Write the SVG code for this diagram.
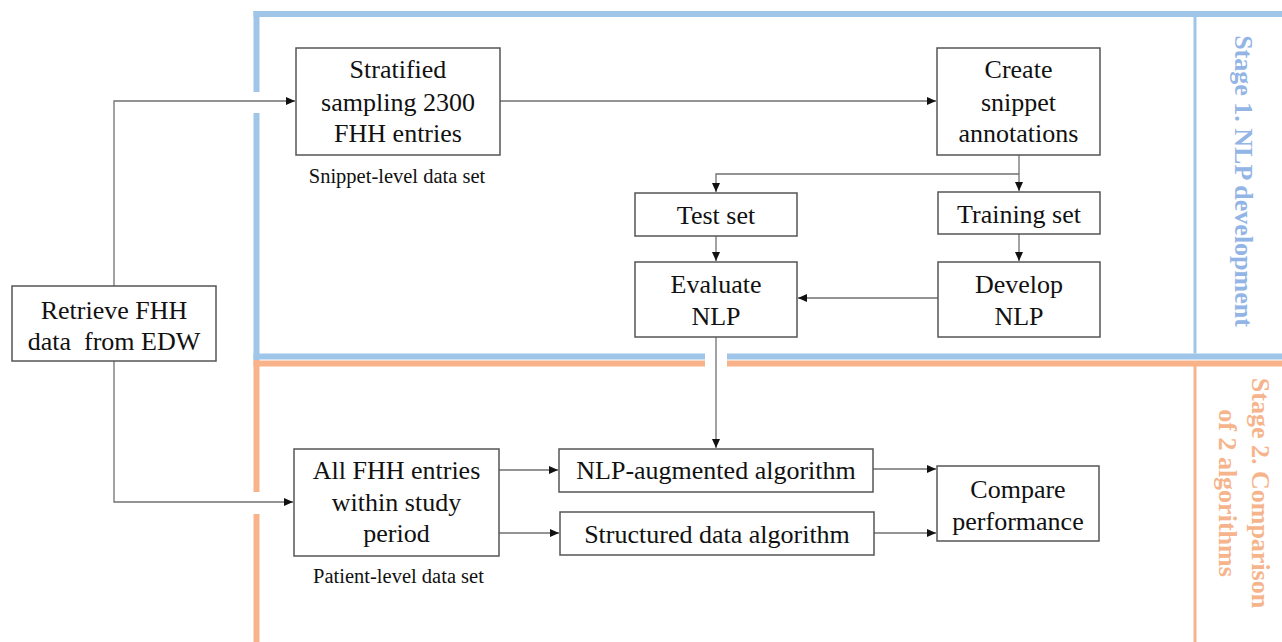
<svg xmlns="http://www.w3.org/2000/svg" width="1282" height="642" viewBox="0 0 1282 642">
<style>
.box{fill:#fff;stroke:#555;stroke-width:1.5}
.t{font-family:"Liberation Serif","Times New Roman",serif;font-size:26px;fill:#111;text-anchor:middle}
.lbl{font-family:"Liberation Serif","Times New Roman",serif;font-size:20.5px;fill:#111;text-anchor:middle}
.con{fill:none;stroke:#707070;stroke-width:1.3}
.blue{fill:none;stroke:#9fc5e8;stroke-width:6}
.orange{fill:none;stroke:#f8b38a;stroke-width:6}
.bdiv{fill:none;stroke:#9fc5e8;stroke-width:3}
.odiv{fill:none;stroke:#f8b38a;stroke-width:3}
.stage{font-family:"Liberation Serif","Times New Roman",serif;font-size:26px;font-weight:bold;text-anchor:middle}
</style>
<defs>
<marker id="arr" markerUnits="userSpaceOnUse" markerWidth="10" markerHeight="8" refX="9" refY="4" orient="auto">
<path d="M0,0 L9,4 L0,8 Z" fill="#111"/>
</marker>
</defs>
<rect width="1282" height="642" fill="#fff"/>
<g id="frames">
<path class="blue" d="M253.5,14 H1282"/>
<path class="blue" d="M256.5,11 V92 M256.5,113 V360"/>
<path class="blue" d="M253.5,356.5 H705 M727,356.5 H1282"/>
<path class="orange" d="M253.5,363.5 H705 M727,363.5 H1282"/>
<path class="orange" d="M256.5,360 V492 M256.5,514 V642"/>
<path class="bdiv" d="M1195,16 V353.5"/>
<path class="odiv" d="M1195,366 V642"/>
</g>
<g id="stage1">
<text class="stage" fill="#93b5e6" transform="translate(1235,181) rotate(90)">Stage 1. NLP development</text>
</g>
<g id="stage2">
<text class="stage" fill="#f6b48c" transform="translate(1251.5,493) rotate(90)">Stage 2. Comparison</text>
<text class="stage" fill="#f6b48c" transform="translate(1219,493) rotate(90)">of 2 algorithms</text>
</g>
<g id="connectors">
<path class="con" d="M114,286 V101 H295" marker-end="url(#arr)"/>
<path class="con" d="M114,361 V502 H293" marker-end="url(#arr)"/>
<path class="con" d="M500,101 H936" marker-end="url(#arr)"/>
<path class="con" d="M1019,155 V191" marker-end="url(#arr)"/>
<path class="con" d="M1019,174 H716 V192" marker-end="url(#arr)"/>
<path class="con" d="M716,236 V261" marker-end="url(#arr)"/>
<path class="con" d="M1019,234 V261" marker-end="url(#arr)"/>
<path class="con" d="M938,298 H798" marker-end="url(#arr)"/>
<path class="con" d="M716,337 V448" marker-end="url(#arr)"/>
<path class="con" d="M499,470 H558" marker-end="url(#arr)"/>
<path class="con" d="M499,533 H559" marker-end="url(#arr)"/>
<path class="con" d="M873,469 H936" marker-end="url(#arr)"/>
<path class="con" d="M874,533 H936" marker-end="url(#arr)"/>
</g>
<g id="retrieve">
<rect class="box" x="12" y="286" width="204" height="75"/>
<text class="t" x="114" y="319">Retrieve FHH</text>
<text class="t" x="114" y="350" style="white-space:pre" xml:space="preserve">data  from EDW</text>
</g>
<g id="stratified">
<rect class="box" x="296" y="48" width="204" height="107"/>
<text class="t" x="398" y="78">Stratified</text>
<text class="t" x="398" y="110.5">sampling 2300</text>
<text class="t" x="398" y="142">FHH entries</text>
<text class="lbl" x="397" y="183">Snippet-level data set</text>
</g>
<g id="create">
<rect class="box" x="937" y="48" width="163" height="107"/>
<text class="t" x="1018.5" y="78">Create</text>
<text class="t" x="1018.5" y="110.5">snippet</text>
<text class="t" x="1018.5" y="142">annotations</text>
</g>
<g id="testset">
<rect class="box" x="635" y="193" width="162" height="43"/>
<text class="t" x="716" y="224">Test set</text>
</g>
<g id="trainingset">
<rect class="box" x="938" y="192" width="162" height="42"/>
<text class="t" x="1019" y="222.5">Training set</text>
</g>
<g id="evaluate">
<rect class="box" x="635" y="262" width="162" height="75"/>
<text class="t" x="716" y="292.5">Evaluate</text>
<text class="t" x="716" y="325">NLP</text>
</g>
<g id="develop">
<rect class="box" x="938" y="262" width="162" height="75"/>
<text class="t" x="1019" y="292.5">Develop</text>
<text class="t" x="1019" y="325">NLP</text>
</g>
<g id="allfhh">
<rect class="box" x="294" y="449" width="205" height="107"/>
<text class="t" x="396.5" y="479">All FHH entries</text>
<text class="t" x="396.5" y="511">within study</text>
<text class="t" x="396.5" y="542">period</text>
<text class="lbl" x="398.5" y="582.5">Patient-level data set</text>
</g>
<g id="nlpaug">
<rect class="box" x="559" y="449" width="314" height="43"/>
<text class="t" x="716" y="479">NLP-augmented algorithm</text>
</g>
<g id="structured">
<rect class="box" x="560" y="512" width="314" height="43"/>
<text class="t" x="717" y="542.5">Structured data algorithm</text>
</g>
<g id="compare">
<rect class="box" x="937" y="466" width="162" height="75"/>
<text class="t" x="1018" y="498">Compare</text>
<text class="t" x="1018" y="529.5">performance</text>
</g>
</svg>
